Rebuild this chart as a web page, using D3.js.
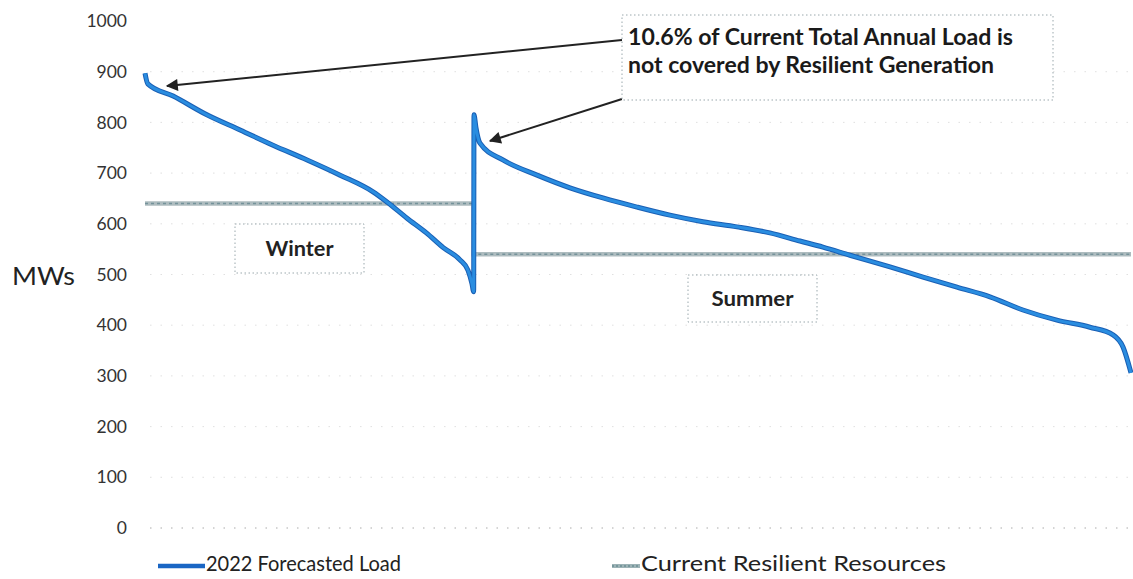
<!DOCTYPE html>
<html>
<head>
  <meta charset="utf-8">
  <title>2022 Forecasted Load vs Current Resilient Resources</title>
  <script src="https://cdn.jsdelivr.net/npm/d3@7"></script>
  <style>
    body { margin:0; background:#fff; }
    text { font-family: Lato, "Open Sans", sans-serif; }
  </style>
</head>
<body>
<div id="chart"></div>
<script>
// hours of the year, winter block first then summer block (each sorted high to low)
var winterHours = 2920;
var loadHours = [0, 25, 250, 550, 845, 1137, 1440, 1733, 2026, 2150, 2328, 2500, 2650, 2798, 2870, 2905, 2920,
                 2923, 2940, 2976, 3180, 3483, 3776, 4069, 4371, 4664, 4957, 5259, 5552, 5819, 6023,
                 6263, 6619, 6912, 7214, 7507, 7800, 8102, 8395, 8600, 8689, 8760];
var loadMW = [897, 876, 852, 815, 785, 755, 726, 696, 663, 643, 611, 582, 553, 529, 508, 482, 466,
              815, 790, 759, 726, 696, 671, 651, 633, 617, 604, 594, 582, 566, 554,
              538, 515, 495, 475, 456, 430, 410, 396, 381, 357, 306];
var resilientHours = [0, 2920, 8760];
var resilientMW = [640, 540, 540];
var yTicks = [0, 100, 200, 300, 400, 500, 600, 700, 800, 900, 1000];
var legendLabels = ["2022 Forecasted Load", "Current Resilient Resources"];
var noteLines = ["10.6% of Current Total Annual Load is", "not covered by Resilient Generation"];
var seasonLabels = ["Winter", "Summer"];

var W = 1133, H = 579;
var svg = d3.select("#chart").append("svg").attr("width", W).attr("height", H);

var x = d3.scaleLinear().domain([0, 8760]).range([145, 1131]);
var y = d3.scaleLinear().domain([0, 1000]).range([528, 21]);

// faint dotted gridlines
svg.append("g").selectAll("line").data(yTicks.slice(0, -1)).enter().append("line")
  .attr("x1", 150).attr("x2", W).attr("y1", function(d){return y(d);}).attr("y2", function(d){return y(d);})
  .attr("stroke", "#888").attr("stroke-width", 1).attr("stroke-dasharray", "1.5,9")
  .attr("opacity", function(d){return d == 0 ? 0.7 : 0.25;});

// y axis labels
var yAxis = d3.axisLeft(y).tickValues(yTicks).tickFormat(d3.format("d")).tickSize(0).tickPadding(0);
var ga = svg.append("g").attr("transform", "translate(127,0)").call(yAxis);
ga.select(".domain").remove();
ga.selectAll("text").attr("font-family", "'Open Sans', sans-serif").attr("font-size", 17.5).attr("fill", "#333");

svg.append("text").attr("x", 12).attr("y", 276).attr("dy", "0.35em")
  .attr("font-family", "'Open Sans', sans-serif").attr("font-size", 25).attr("fill", "#222")
  .attr("textLength", 63).attr("lengthAdjust", "spacingAndGlyphs").text("MWs");

// resilient resources step line
var resData = resilientHours.map(function(h, i){return [h, resilientMW[i]];});
var resLine = d3.line().x(function(d){return x(d[0]);}).y(function(d){return y(d[1]);}).curve(d3.curveStepAfter);
svg.append("path").datum(resData).attr("d", resLine).attr("fill", "none")
  .attr("stroke", "#aebcbf").attr("stroke-width", 4.5);
svg.append("path").datum(resData).attr("d", resLine).attr("fill", "none")
  .attr("stroke", "#75929a").attr("stroke-width", 1.5).attr("stroke-dasharray", "3,3");

// load duration curve
var loadData = loadHours.map(function(h, i){return [h, loadMW[i]];});
var loadLine = d3.line().x(function(d){return x(d[0]);}).y(function(d){return y(d[1]);}).curve(d3.curveMonotoneX);
svg.append("path").datum(loadData).attr("d", loadLine).attr("fill", "none")
  .attr("stroke", "#1a5fb4").attr("stroke-width", 5).attr("stroke-linejoin", "round");
svg.append("path").datum(loadData).attr("d", loadLine).attr("fill", "none")
  .attr("stroke", "#2a8de0").attr("stroke-width", 3).attr("stroke-linejoin", "round");

// season boxes
var boxes = [
  {label: seasonLabels[0], x: 235, y: 224, w: 129, h: 49, tl: 68},
  {label: seasonLabels[1], x: 688, y: 275, w: 129, h: 47, tl: 82}
];
boxes.forEach(function(b){
  svg.append("rect").attr("x", b.x).attr("y", b.y).attr("width", b.w).attr("height", b.h)
    .attr("fill", "#fff").attr("stroke", "#9aa8ad").attr("stroke-dasharray", "1.5,2.5");
  svg.append("text").attr("x", b.x + b.w/2).attr("y", b.y + b.h/2).attr("dy", "0.35em")
    .attr("text-anchor", "middle").attr("font-weight", "bold").attr("font-size", 20).attr("fill", "#222")
    .attr("textLength", b.tl).attr("lengthAdjust", "spacingAndGlyphs").text(b.label);
});

// annotation arrows
var defs = svg.append("defs");
defs.append("marker").attr("id", "arr").attr("viewBox", "0 0 10 10").attr("refX", 9).attr("refY", 5)
  .attr("markerWidth", 16).attr("markerHeight", 12).attr("markerUnits", "userSpaceOnUse")
  .attr("orient", "auto")
  .append("path").attr("d", "M0,0L10,5L0,10z").attr("fill", "#222");

svg.append("line").attr("x1", 622).attr("y1", 40).attr("x2", 167).attr("y2", 86)
  .attr("stroke", "#222").attr("stroke-width", 2).attr("marker-end", "url(#arr)");
svg.append("line").attr("x1", 622).attr("y1", 99).attr("x2", 490).attr("y2", 141)
  .attr("stroke", "#222").attr("stroke-width", 2).attr("marker-end", "url(#arr)");

// annotation box
svg.append("rect").attr("x", 622).attr("y", 15).attr("width", 431).attr("height", 85)
  .attr("fill", "#fff").attr("stroke", "#9aa8ad").attr("stroke-dasharray", "1.5,2.5");
svg.append("text").attr("x", 628).attr("y", 45).attr("font-weight", "bold").attr("font-size", 22)
  .attr("fill", "#1a1a1a").attr("textLength", 385).attr("lengthAdjust", "spacingAndGlyphs").text(noteLines[0]);
svg.append("text").attr("x", 628).attr("y", 73).attr("font-weight", "bold").attr("font-size", 22)
  .attr("fill", "#1a1a1a").attr("textLength", 366).attr("lengthAdjust", "spacingAndGlyphs").text(noteLines[1]);

// legend
var ly = 564;
var lg = svg.append("g");
lg.append("line").attr("x1", 158).attr("x2", 205).attr("y1", ly + 2).attr("y2", ly + 2)
  .attr("stroke", "#1a66c4").attr("stroke-width", 4.5);
lg.append("text").attr("x", 206).attr("y", ly).attr("dy", "0.35em").attr("font-size", 21).attr("fill", "#222")
  .attr("textLength", 195).attr("lengthAdjust", "spacingAndGlyphs").text(legendLabels[0]);
lg.append("line").attr("x1", 612).attr("x2", 640).attr("y1", ly + 2).attr("y2", ly + 2)
  .attr("stroke", "#9db3b6").attr("stroke-width", 4);
lg.append("line").attr("x1", 612).attr("x2", 640).attr("y1", ly + 2).attr("y2", ly + 2)
  .attr("stroke", "#6b8e94").attr("stroke-width", 1.5).attr("stroke-dasharray", "2,2");
lg.append("text").attr("x", 641).attr("y", ly).attr("dy", "0.35em").attr("font-size", 21).attr("fill", "#222")
  .attr("textLength", 305).attr("lengthAdjust", "spacingAndGlyphs").text(legendLabels[1]);
</script>
</body>
</html>
